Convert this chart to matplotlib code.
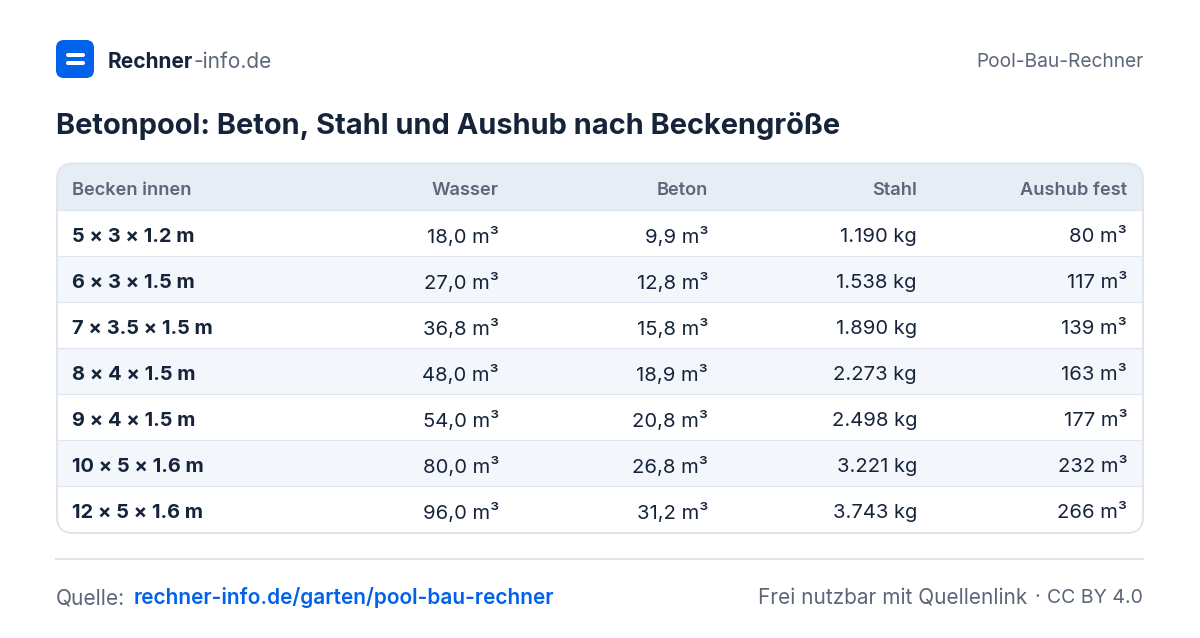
import matplotlib
matplotlib.use('Agg')
import matplotlib.pyplot as plt
from matplotlib.patches import FancyBboxPatch, Rectangle

plt.rcParams['font.family'] = ['Inter', 'DejaVu Sans']

columns = ['Becken innen', 'Wasser', 'Beton', 'Stahl', 'Aushub fest']
becken = ['5 × 3 × 1.2 m', '6 × 3 × 1.5 m', '7 × 3.5 × 1.5 m', '8 × 4 × 1.5 m',
          '9 × 4 × 1.5 m', '10 × 5 × 1.6 m', '12 × 5 × 1.6 m']
wasser = ['18,0 m³', '27,0 m³', '36,8 m³', '48,0 m³', '54,0 m³', '80,0 m³', '96,0 m³']
beton = ['9,9 m³', '12,8 m³', '15,8 m³', '18,9 m³', '20,8 m³', '26,8 m³', '31,2 m³']
stahl = ['1.190 kg', '1.538 kg', '1.890 kg', '2.273 kg', '2.498 kg', '3.221 kg', '3.743 kg']
aushub = ['80 m³', '117 m³', '139 m³', '163 m³', '177 m³', '232 m³', '266 m³']

DARK = '#16243a'
GREY = '#5b6678'
BLUE = '#0062eb'
LINE = '#dfe5ef'
HEAD = '#e7edf5'
ALT = '#f3f6fb'


def px(s):
    # font size given in pixels of the 1200 wide picture
    return s * 0.72


fig = plt.figure(figsize=(12, 6.38), dpi=100)
ax = fig.add_axes([0, 0, 1, 1])
ax.set_xlim(0, 1200)
ax.set_ylim(638, 0)
ax.axis('off')

# logo
ax.add_patch(FancyBboxPatch((56, 40), 38, 38, boxstyle='round,pad=0,rounding_size=8', lw=0, fc=BLUE))
ax.add_patch(FancyBboxPatch((66, 53), 19, 4, boxstyle='round,pad=0,rounding_size=2', lw=0, fc='white'))
ax.add_patch(FancyBboxPatch((66, 61), 19, 4, boxstyle='round,pad=0,rounding_size=2', lw=0, fc='white'))

t1 = ax.text(108, 60, 'Rechner', fontsize=px(20.9), fontweight='bold', color=DARK, va='center_baseline')
fig.canvas.draw()
bb = t1.get_window_extent()
ax.text(bb.x1, 60, '-info.de', fontsize=px(20.9), color=GREY, va='center_baseline')
ax.text(1143.5, 60, 'Pool-Bau-Rechner', fontsize=px(19.1), color=GREY, ha='right', va='center_baseline')

ax.text(56, 123.5, 'Betonpool: Beton, Stahl und Aushub nach Beckengröße', fontsize=px(29),
        fontweight='bold', color=DARK, va='center_baseline')

# table card, rows are clipped to it
X0, X1, Y0, Y1 = 57, 1143, 163.5, 533
card = FancyBboxPatch((X0, Y0), X1 - X0, Y1 - Y0, boxstyle='round,pad=0,rounding_size=16',
                      lw=0, fc='white', zorder=1)
ax.add_patch(card)

head_h = 46.5
row_h = 46
head = Rectangle((X0, Y0), X1 - X0, head_h, fc=HEAD, lw=0, zorder=1.5)
ax.add_patch(head)
head.set_clip_path(card)
ax.plot([X0, X1], [Y0 + head_h, Y0 + head_h], color=LINE, lw=0.8, zorder=2)

right_edges = [499, 708, 917, 1127]
for x, name in zip([72] + right_edges, columns):
    ax.text(x, 188.5, name, fontsize=px(18.2), fontweight='semibold', color=GREY,
            ha='left' if x == 72 else 'right', va='center_baseline', zorder=4)

for i in range(len(becken)):
    top = 210 + i * row_h
    mid = top + 24.5
    if i % 2 == 1:
        r = Rectangle((X0, top), X1 - X0, row_h, fc=ALT, lw=0, zorder=1.5)
        ax.add_patch(r)
        r.set_clip_path(card)
    if i > 0:
        ax.plot([X0, X1], [top, top], color=LINE, lw=0.8, zorder=2)
    ax.text(72, mid, becken[i], fontsize=px(20), fontweight='bold', color=DARK,
            va='center_baseline', zorder=4)
    for x, col in zip(right_edges, [wasser, beton, stahl, aushub]):
        ax.text(x, mid, col[i], fontsize=px(20.2), color=DARK, ha='right',
                va='center_baseline', zorder=4)

border = FancyBboxPatch((X0, Y0), X1 - X0, Y1 - Y0, boxstyle='round,pad=0,rounding_size=16',
                        lw=1.4, ec=LINE, fc='none', zorder=3)
ax.add_patch(border)

# footer
ax.plot([56, 1143], [559, 559], color=LINE, lw=1.4)
ax.text(56, 596, 'Quelle:', fontsize=px(21), color=GREY, va='center_baseline')
ax.text(134, 596, 'rechner-info.de/garten/pool-bau-rechner', fontsize=px(20.85), fontweight='semibold',
        color=BLUE, va='center_baseline')
ax.text(758, 596, 'Frei nutzbar mit Quellenlink', fontsize=px(20.8), color=GREY, va='center_baseline')
ax.text(1037.5, 596, '·', fontsize=px(20), color=GREY, ha='center', va='center_baseline')
ax.text(1143, 596, 'CC BY 4.0', fontsize=px(19.5), color=GREY, ha='right', va='center_baseline')

fig.savefig('out.png', dpi=100, facecolor='white')
